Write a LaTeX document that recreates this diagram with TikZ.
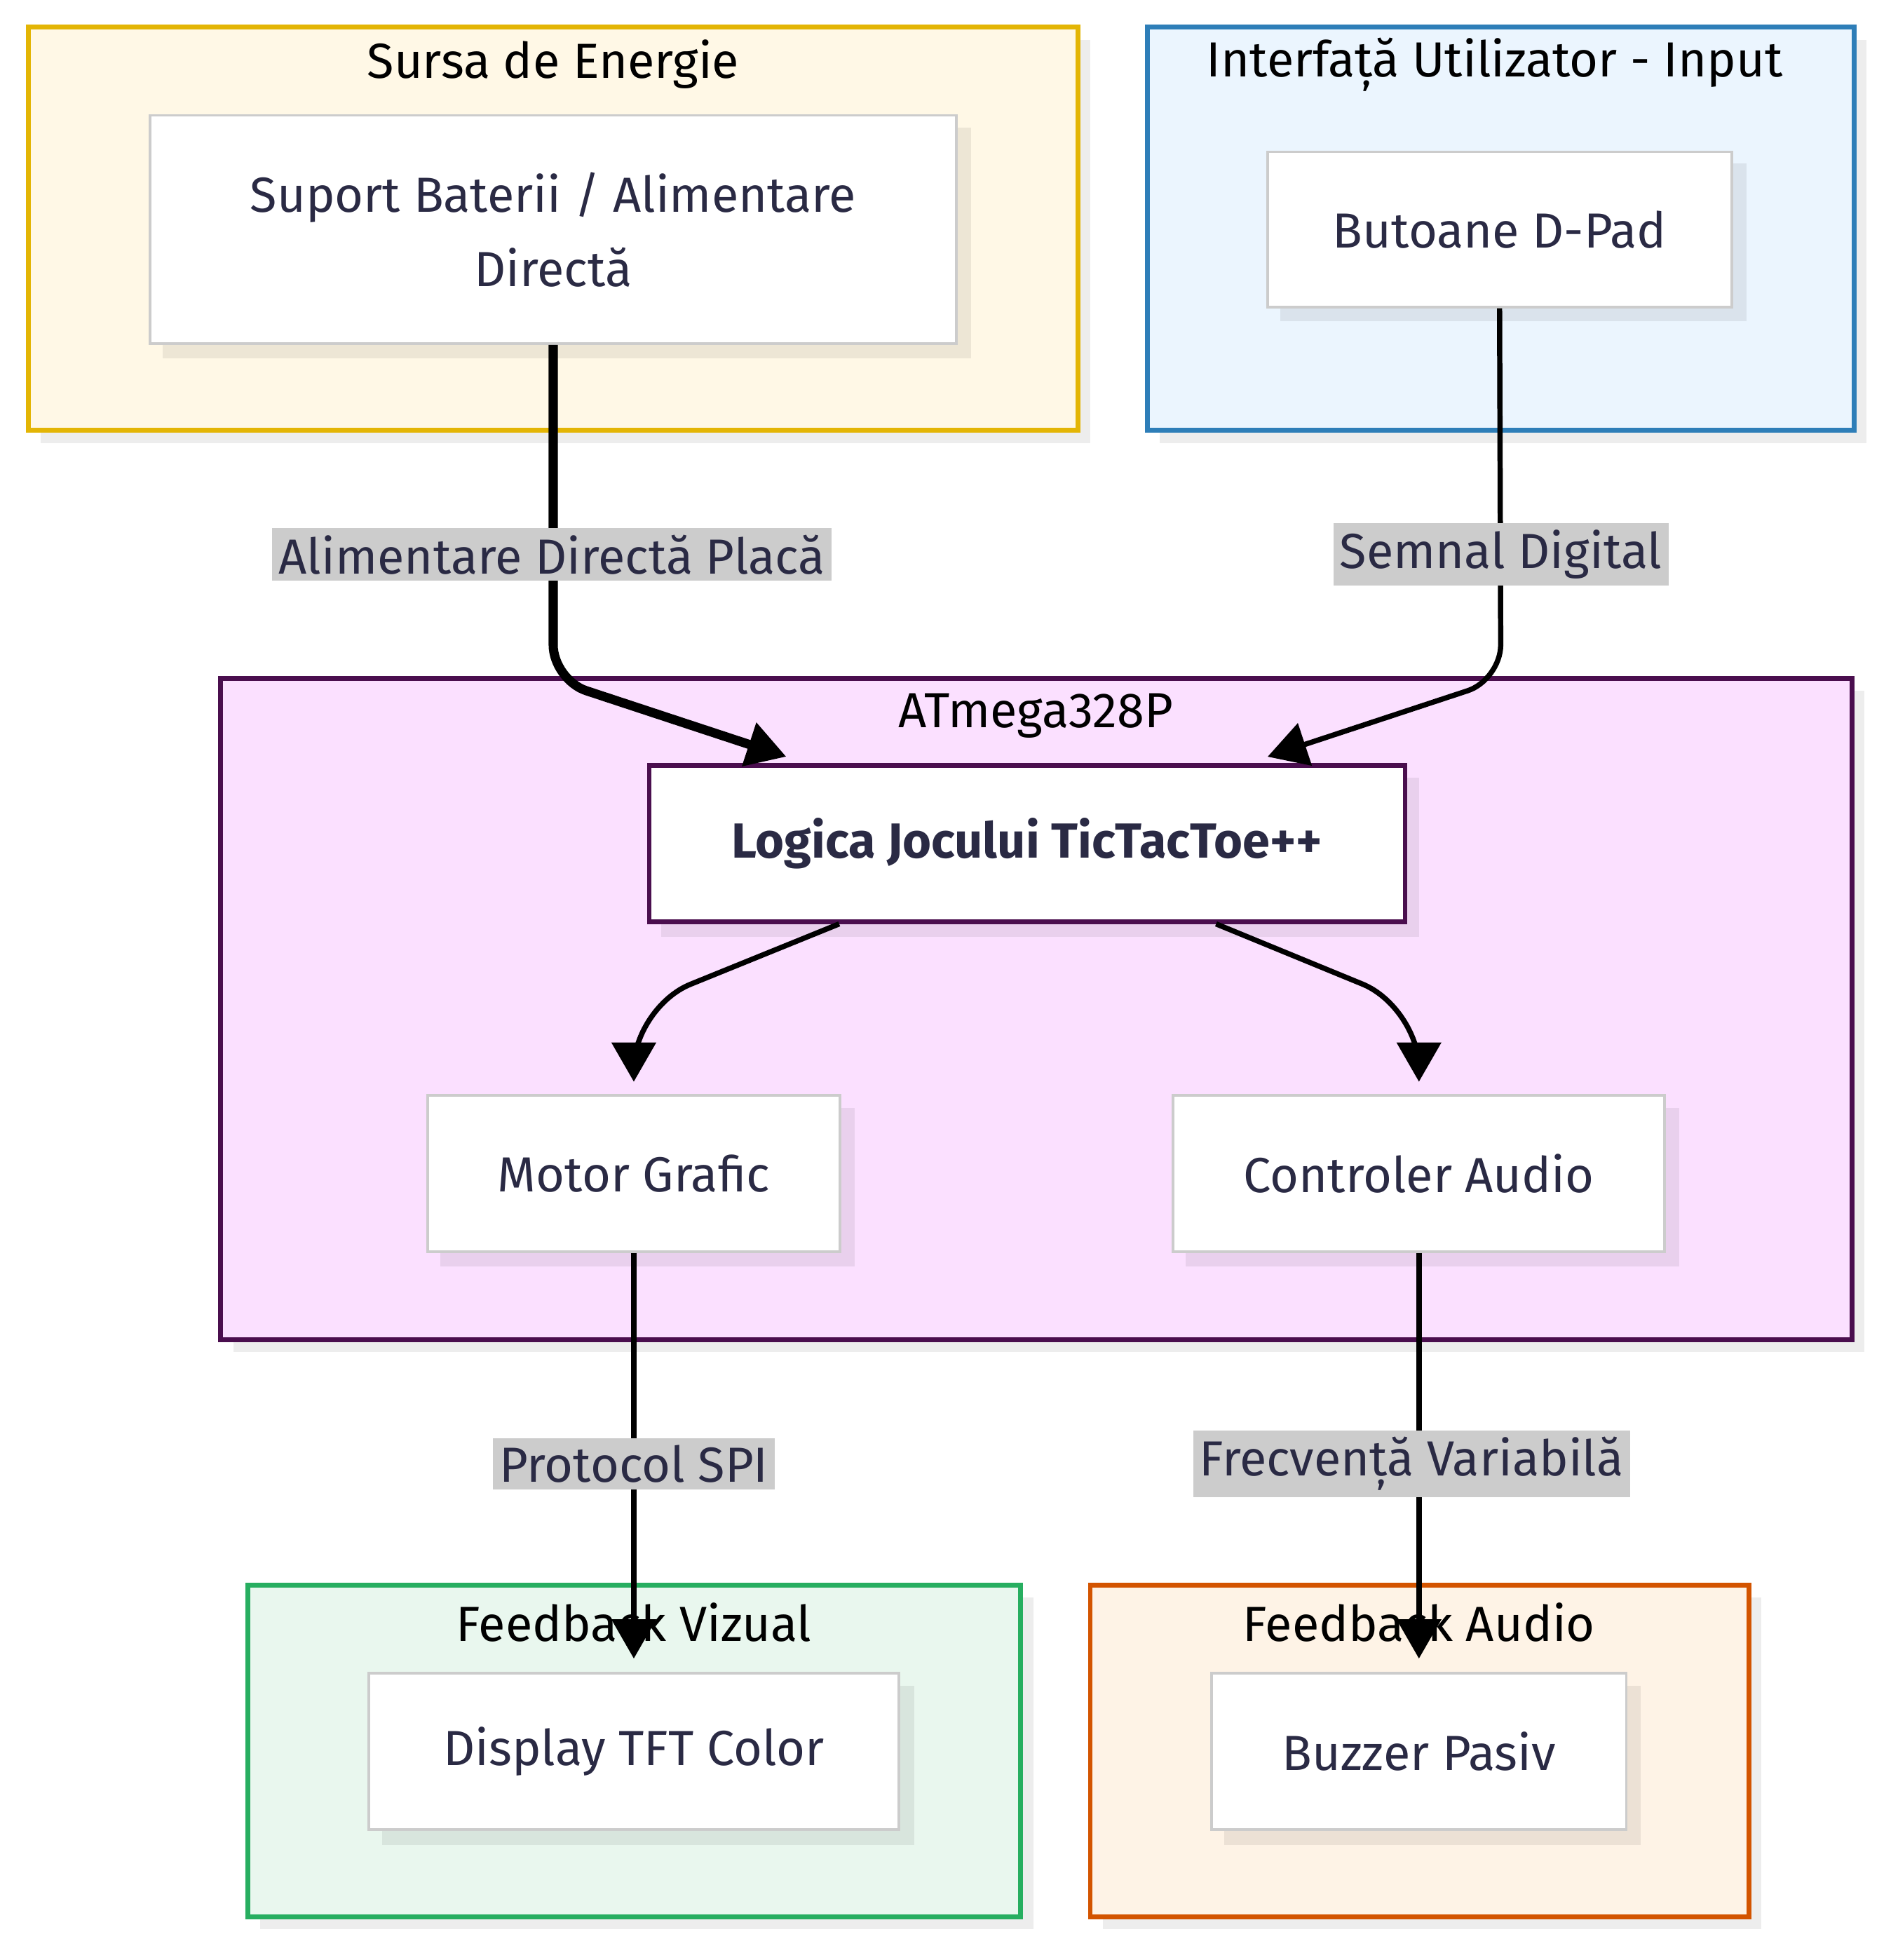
\documentclass[tikz,border=0pt]{standalone}
\usepackage{fontspec}
\setmainfont{Fira Sans}
\usetikzlibrary{positioning}
\usetikzlibrary{arrows.meta}
\definecolor{txt}{HTML}{2A2A44}
\definecolor{shd}{HTML}{000000}
\definecolor{sursaline}{HTML}{E3B505}
\definecolor{sursafill}{HTML}{FFF8E6}
\definecolor{inputline}{HTML}{2E7EB8}
\definecolor{inputfill}{HTML}{EBF5FE}
\definecolor{mculine}{HTML}{4A0E4E}
\definecolor{mcufill}{HTML}{FBE0FF}
\definecolor{vizline}{HTML}{27AE60}
\definecolor{vizfill}{HTML}{E9F7EE}
\definecolor{audline}{HTML}{D35400}
\definecolor{audfill}{HTML}{FEF3E6}
\begin{document}
\begin{tikzpicture}[x=0.01cm, y=-0.01cm, font=\fontsize{11.3}{17}\selectfont,
groupbox/.style={draw=#1, line width=1.1pt},
itemnode/.style={draw=#1, fill=white, line width=0.6pt, text=txt, align=center, inner sep=0pt},
shadowbox/.style={fill=shd, opacity=0.07},
edgelabel/.style={fill=black!20, text=txt, inner sep=1.5pt},
flow/.style={-{Triangle[length=9pt,width=10pt]}, line width=1.2pt, rounded corners=8pt},
]
\useasboundingbox (0,0) rectangle (1530,1580);
%Groups
\fill[shadowbox] (33,32) rectangle (879,357);
\draw[groupbox=sursaline, fill=sursafill] (23,22) rectangle (869,347);
\node at (446,52) {Sursa de Energie};
\fill[shadowbox] (935,32) rectangle (1505,357);
\draw[groupbox=inputline, fill=inputfill] (925,22) rectangle (1495,347);
\node at (1205,52) {Interfață Utilizator - Input};
\fill[shadowbox] (188,557) rectangle (1503,1090);
\draw[groupbox=mculine, fill=mcufill] (178,547) rectangle (1493,1080);
\node at (835,577) {ATmega328P};
\fill[shadowbox] (210,1288) rectangle (833,1555);
\draw[groupbox=vizline, fill=vizfill] (200,1278) rectangle (823,1545);
\node at (511,1308) {Feedback Vizual};
\fill[shadowbox] (889,1288) rectangle (1420,1555);
\draw[groupbox=audline, fill=audfill] (879,1278) rectangle (1410,1545);
\node at (1144,1308) {Feedback Audio};
%Nodes
\fill[shadowbox] (131,103) rectangle (783,289);
\node[itemnode=black!20, minimum width=6.5cm, minimum height=1.84cm] at (446,185) (suport) {Suport Baterii / Alimentare\\Directă};
\fill[shadowbox] (1032,132) rectangle (1408,259);
\node[itemnode=black!20, minimum width=3.74cm, minimum height=1.25cm] at (1209,185) (butoane) {Butoane D-Pad};
\fill[shadowbox] (533,627) rectangle (1144,755);
\node[itemnode=mculine, minimum width=6.09cm, minimum height=1.26cm, line width=1pt, font=\fontsize{11.3}{17}\selectfont\bfseries] at (828,680) (logica) {Logica Jocului TicTacToe++};
\fill[shadowbox] (355,893) rectangle (689,1021);
\node[itemnode=black!20, minimum width=3.32cm, minimum height=1.26cm] at (511,946) (motor) {Motor Grafic};
\fill[shadowbox] (956,893) rectangle (1354,1021);
\node[itemnode=black!20, minimum width=3.96cm, minimum height=1.26cm] at (1144,946) (audio) {Controler Audio};
\fill[shadowbox] (308,1359) rectangle (737,1487);
\node[itemnode=black!20, minimum width=4.27cm, minimum height=1.26cm] at (511,1412) (display) {Display TFT Color};
\fill[shadowbox] (987,1359) rectangle (1323,1487);
\node[itemnode=black!20, minimum width=3.34cm, minimum height=1.26cm] at (1144,1412) (buzzer) {Buzzer Pasiv};
%Coordinates
\coordinate (p1) at (446,548);
\coordinate (e1) at (634,610);
\coordinate (p2) at (1210,548);
\coordinate (e2) at (1022,610);
\coordinate (p3) at (511,812);
\coordinate (p4) at (1144,812);
\coordinate (e5) at (511,1337);
\coordinate (e6) at (1144,1337);
%Lines
\draw[flow, line width=2.1pt] (suport.south) -- (p1) -- (e1);
\draw[flow] (butoane.south) -- (p2) -- (e2);
\draw[flow, rounded corners=14pt] (logica.south west) ++(155,0) coordinate (s3) -- (p3) -- (511,872);
\draw[flow, rounded corners=14pt] (logica.south east) ++(-154,0) coordinate (s4) -- (p4) -- (1144,872);
\draw[flow] (motor.south) -- (e5);
\draw[flow] (audio.south) -- (e6);
%Labels
\node[edgelabel] at (445,447) (l1) {Alimentare Directă Placă};
\node[edgelabel] at (1210,447) (l2) {Semnal Digital};
\node[edgelabel] at (511,1180) (l3) {Protocol SPI};
\node[edgelabel] at (1138,1180) (l4) {Frecvență Variabilă};
\end{tikzpicture}
\end{document}
